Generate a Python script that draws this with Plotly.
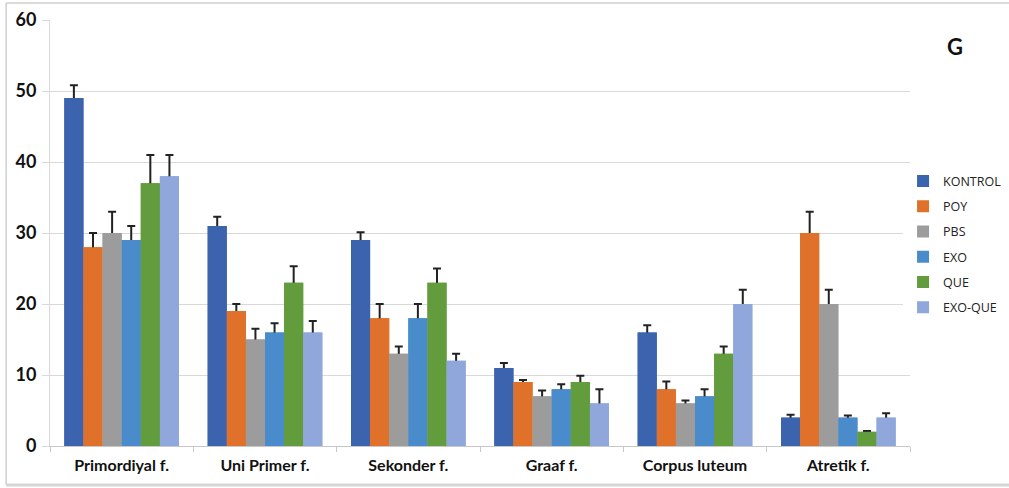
import plotly.graph_objects as go

categories = ["Primordiyal f.", "Uni Primer f.", "Sekonder f.", "Graaf f.", "Corpus luteum", "Atretik f."]
groups = ["KONTROL", "POY", "PBS", "EXO", "QUE", "EXO-QUE"]

kontrol = [49, 31, 29, 11, 16, 4]
poy = [28, 19, 18, 9, 8, 30]
pbs = [30, 15, 13, 7, 6, 20]
exo = [29, 16, 18, 8, 7, 4]
que = [37, 23, 23, 9, 13, 2]
exo_que = [38, 16, 12, 6, 20, 4]

kontrol_err = [1.8, 1.3, 1.1, 0.7, 1.0, 0.4]
poy_err = [2.0, 1.0, 2.0, 0.3, 1.1, 3.0]
pbs_err = [3.0, 1.5, 1.0, 0.8, 0.4, 2.0]
exo_err = [2.0, 1.3, 2.0, 0.7, 1.0, 0.3]
que_err = [4.0, 2.3, 2.0, 0.9, 1.0, 0.1]
exo_que_err = [3.0, 1.6, 1.0, 2.0, 2.0, 0.6]

values = [kontrol, poy, pbs, exo, que, exo_que]
errors = [kontrol_err, poy_err, pbs_err, exo_err, que_err, exo_que_err]
colors = ["#3b63ae", "#e0712b", "#9c9c9c", "#4a8ccb", "#629c3c", "#8fa7da"]

fig = go.Figure()
# bars with symmetric SD error bars
for name, vals, errs, col in zip(groups, values, errors, colors):
    fig.add_trace(go.Bar(
        name=name, x=categories, y=vals, marker_color=col,
        marker_line_width=0, legendgroup=name, offsetgroup=name,
        error_y=dict(type="data", array=errs, color="#222222",
                     thickness=2, width=4),
    ))
# same bars again on top, so only the upper half of each error bar shows
for name, vals, col in zip(groups, values, colors):
    fig.add_trace(go.Bar(
        name=name, x=categories, y=vals, marker_color=col,
        marker_line_width=0, legendgroup=name, offsetgroup=name,
        showlegend=False, hoverinfo="skip",
    ))

fig.update_layout(
    width=1009, height=488,
    margin=dict(l=50, r=99, t=20, b=42, autoexpand=False),
    paper_bgcolor="white", plot_bgcolor="white",
    barmode="group", bargap=0.2, bargroupgap=0,
    font=dict(family="Lato, Open Sans, sans-serif", color="#111111"),
    legend=dict(xref="container", yref="container", x=0.895, y=0.659,
                xanchor="left", yanchor="top",
                font=dict(size=12.5, family="Open Sans, sans-serif", color="#222222"),
                tracegroupgap=6, itemwidth=30),
    showlegend=True,
    xaxis=dict(
        showline=True, linecolor="#c8c8c8", linewidth=1,
        ticks="outside", tickson="boundaries", ticklen=5, tickcolor="#c8c8c8",
        tickfont=dict(size=16, family="Lato, sans-serif", color="#111111", weight="bold"),
        ticklabelstandoff=5, showgrid=False,
    ),
    yaxis=dict(
        range=[0, 60], dtick=10, showgrid=True, gridcolor="#d9d9d9", gridwidth=1,
        showline=True, linecolor="#d9d9d9", zeroline=False,
        ticks="outside", ticklen=7, tickcolor="#d9d9d9",
        tickfont=dict(size=18, family="Lato, sans-serif", color="#111111", weight="bold"),
        ticklabelstandoff=2,
    ),
    shapes=[
        dict(type="line", xref="paper", yref="paper", x0=-0.051, x1=1.2,
             y0=1.04, y1=1.04, line=dict(color="#cfcfcf", width=1.5)),
        dict(type="line", xref="paper", yref="paper", x0=-0.051, x1=-0.051,
             y0=-0.0915, y1=1.04, line=dict(color="#cfcfcf", width=1.5)),
        dict(type="line", xref="paper", yref="paper", x0=-0.051, x1=1.2,
             y0=-0.0915, y1=-0.0915, line=dict(color="#d6d6d6", width=3)),
    ],
    annotations=[dict(text="<b>G</b>", xref="paper", yref="paper", x=1.052, y=0.937,
                      xanchor="center", yanchor="middle", showarrow=False,
                      font=dict(size=22, family="Lato, sans-serif", color="#111111"))],
)

fig.write_html("out.html")
